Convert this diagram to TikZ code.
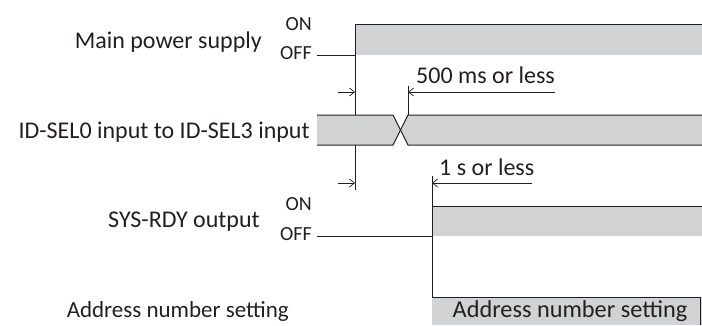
\documentclass[tikz,border=0pt]{standalone}
\usepackage{fontspec}
\setmainfont{Carlito}
\usetikzlibrary{arrows.meta}
\definecolor{sig}{HTML}{D1D2D4}
\definecolor{ink}{HTML}{231F20}
\tikzset{
  wire/.style={draw=ink, line width=1pt},
  dim/.style={draw=ink, line width=0.8pt},
  barb/.tip={Straight Barb[length=5pt,width=8pt,line width=0.7pt]},
  lbl/.style={font=\fontsize{24}{26}\selectfont, text=ink, inner sep=0pt},
  onoff/.style={font=\fontsize{20}{22}\selectfont, text=ink, inner sep=0pt},
}
\begin{document}
\begin{tikzpicture}[x=1pt,y=-1pt]
\useasboundingbox (0,0) rectangle (702,325);

% ---------- Main power supply ----------
\fill[sig] (355,24) rectangle (702,55);
\coordinate (mpOff) at (317,55);
\coordinate (mpEdgeB) at (355,55);
\coordinate (mpEdgeT) at (355,24);
\coordinate (mpEnd) at (702,24);
\path[wire] (mpOff) -- (mpEdgeB) -- (mpEdgeT) -- (mpEnd);
\coordinate (mpRef) at (355,190);
\path[wire] (mpEdgeB) -- (mpRef);

\node[lbl, anchor=base east] (mplabel) at (262,48) {Main power supply};
\node[onoff, anchor=base east] (mpon) at (312,30) {ON};
\node[onoff, anchor=base east] (mpoff) at (312,59) {OFF};

% ---------- ID-SEL ----------
\fill[sig] (317,115) -- (393,115) -- (400.5,130) -- (393,145) -- (317,145) -- cycle;
\fill[sig] (702,115) -- (408,115) -- (400.5,130) -- (408,145) -- (702,145) -- cycle;
\coordinate (idL1) at (317,115);
\coordinate (idL2) at (317,145);
\coordinate (idA) at (393,115);
\coordinate (idB) at (393,145);
\coordinate (idC) at (408,145);
\coordinate (idD) at (408,115);
\coordinate (idR1) at (702,145);
\coordinate (idR2) at (702,115);
\path[wire] (idL1) -- (idA) -- (idC) -- (idR1);
\path[wire] (idL2) -- (idB) -- (idD) -- (idR2);
\node[lbl, anchor=base east] (idlabel) at (310,138) {ID-SEL0 input to ID-SEL3 input};

% ---------- 500 ms dimension ----------
\coordinate (d1s) at (338,92);
\coordinate (d1a) at (355,92);
\coordinate (d1b) at (408,92);
\coordinate (d1e) at (555,92);
\coordinate (d1top) at (408,86);
\path[dim, -{barb}] (d1s) -- (d1a);
\path[dim, {barb}-] (d1b) -- (d1e);
\path[dim] (d1top) -- (idD);
\node[lbl, anchor=base west] (d1lbl) at (416,83) {500 ms or less};

% ---------- 1 s dimension ----------
\coordinate (d2s) at (338,183);
\coordinate (d2a) at (355,183);
\coordinate (d2b) at (432,183);
\coordinate (d2e) at (532,183);
\path[dim, -{barb}] (d2s) -- (d2a);
\path[dim, {barb}-] (d2b) -- (d2e);
\node[lbl, anchor=base west] (d2lbl) at (439,175) {1 s or less};

% ---------- SYS-RDY ----------
\fill[sig] (432,206) rectangle (702,236);
\coordinate (srOff) at (317,236);
\coordinate (srEdge) at (432,236);
\coordinate (srTop) at (432,206);
\coordinate (srEnd) at (702,206);
\coordinate (vTop) at (432,176);
\coordinate (vBot) at (432,325);
\path[wire] (srOff) -- (srEdge);
\path[wire] (srTop) -- (srEnd);
\path[wire] (vTop) -- (vBot);
\node[lbl, anchor=base east] (srlabel) at (260,227) {SYS-RDY output};
\node[onoff, anchor=base east] (sron) at (312,210) {ON};
\node[onoff, anchor=base east] (sroff) at (312,240) {OFF};

% ---------- Address number setting ----------
\fill[sig] (432,297) rectangle (702,325);
\coordinate (adTL) at (432,297);
\coordinate (adTR) at (700,297);
\coordinate (adBR) at (700,325);
\path[wire] (adTL) -- (adTR) -- (adBR);
\node[lbl, anchor=base, font=\fontsize{24.3}{26}\selectfont] (adbox) at (570,317) {Address number setting};
\node[lbl, anchor=base east, font=\fontsize{23}{25}\selectfont] (adlabel) at (289,317) {Address number setting};
\end{tikzpicture}
\end{document}
